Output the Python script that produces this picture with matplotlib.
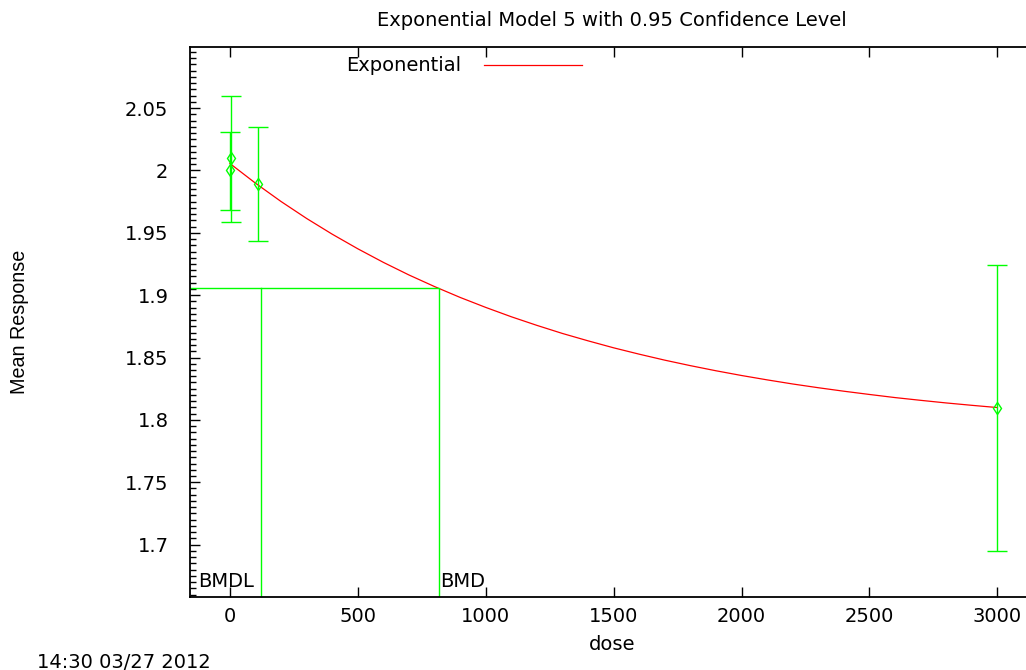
import matplotlib
matplotlib.use("Agg")
import matplotlib.pyplot as plt
from matplotlib.ticker import MultipleLocator, FuncFormatter

plt.rcParams['font.family'] = ['DejaVu Sans']

# observed group means with 95% confidence limits
dose = [0, 5, 110, 3000]
mean = [2.0, 2.01, 1.989, 1.8095]
lower = [1.968, 1.959, 1.9433, 1.6947]
upper = [2.0307, 2.0595, 2.0347, 1.9244]

# fitted exponential curve
curve_dose = [0, 100, 200, 300, 400, 500, 600, 700, 800, 900, 1000,
              1100, 1200, 1300, 1400, 1500, 1600, 1700, 1800, 1900, 2000,
              2100, 2200, 2300, 2400, 2500, 2600, 2700, 2800, 2900, 3000]
curve_resp = [2.0056, 1.9898, 1.9751, 1.9615, 1.9489, 1.9372, 1.9263, 1.9162,
              1.9069, 1.8982, 1.8902, 1.8827, 1.8758, 1.8693, 1.8634, 1.8578,
              1.8527, 1.8479, 1.8435, 1.8394, 1.8356, 1.8321, 1.8288, 1.8258,
              1.8230, 1.8204, 1.8179, 1.8157, 1.8136, 1.8117, 1.8099]

bmd = 817
bmdl = 120
bmd_resp = 1.9054

xlim = (-156, 3120)
ylim = (1.658, 2.099)

green = '#00ff00'
W, H = 1026, 670
fs = 14


def fy(py):
    return 1 - py / H


fig = plt.figure(figsize=(W / 100, H / 100), dpi=100)
ax = fig.add_axes([190 / W, fy(597), 1 - 190 / W + 0.002, (597 - 47) / H])

ax.plot(curve_dose, curve_resp, color='red', lw=0.9)

yerr = [[m - l for m, l in zip(mean, lower)], [u - m for m, u in zip(mean, upper)]]
ax.errorbar(dose, mean, yerr=yerr, fmt='d', color=green, mfc='none', mec=green,
            ms=6, mew=1.0, elinewidth=1.0, capsize=7.5, capthick=1.0)

# BMD / BMDL markers
ax.plot([xlim[0], bmd, bmd], [bmd_resp, bmd_resp, ylim[0]], color=green, lw=1.0)
ax.plot([bmdl, bmdl], [bmd_resp, ylim[0]], color=green, lw=1.0)
fig.text(198 / W, fy(587), 'BMDL', fontsize=fs, va='baseline', ha='left')
fig.text(440 / W, fy(587), 'BMD', fontsize=fs, va='baseline', ha='left')

ax.set_xlim(*xlim)
ax.set_ylim(*ylim)
ax.xaxis.set_major_locator(MultipleLocator(500))
ax.yaxis.set_major_locator(MultipleLocator(0.05))
ax.yaxis.set_minor_locator(MultipleLocator(0.005))
ax.yaxis.set_major_formatter(FuncFormatter(lambda v, p: ('%.2f' % v).rstrip('0').rstrip('.')))
ax.tick_params(which='both', direction='in', top=True, right=False, labelsize=fs)
ax.tick_params(axis='y', pad=15.5)
ax.tick_params(axis='x', pad=7.5)
ax.tick_params(which='major', length=7, width=1)
ax.tick_params(which='minor', length=4, width=1)
ax.spines['right'].set_visible(False)
for s in ['left', 'bottom', 'top']:
    ax.spines[s].set_linewidth(1.3)

fig.text(612 / W, fy(650), 'dose', fontsize=fs, ha='center', va='baseline')
fig.text(20 / W, fy(322), 'Mean Response', fontsize=14.2, ha='center', va='center',
         rotation=90, family='Liberation Sans')
fig.text(612 / W, fy(26), 'Exponential Model 5 with 0.95 Confidence Level',
         fontsize=fs, ha='center', va='baseline')
fig.text(37 / W, fy(668), '14:30 03/27 2012', fontsize=fs, ha='left', va='baseline')

# legend drawn gnuplot style: text then sample line
fig.text(461 / W, fy(71), 'Exponential', fontsize=fs, ha='right', va='baseline')
fig.add_artist(plt.Line2D([484 / W, 582 / W], [fy(65), fy(65)],
                          color='red', lw=0.9, transform=fig.transFigure))

fig.savefig('out.png', dpi=100)
